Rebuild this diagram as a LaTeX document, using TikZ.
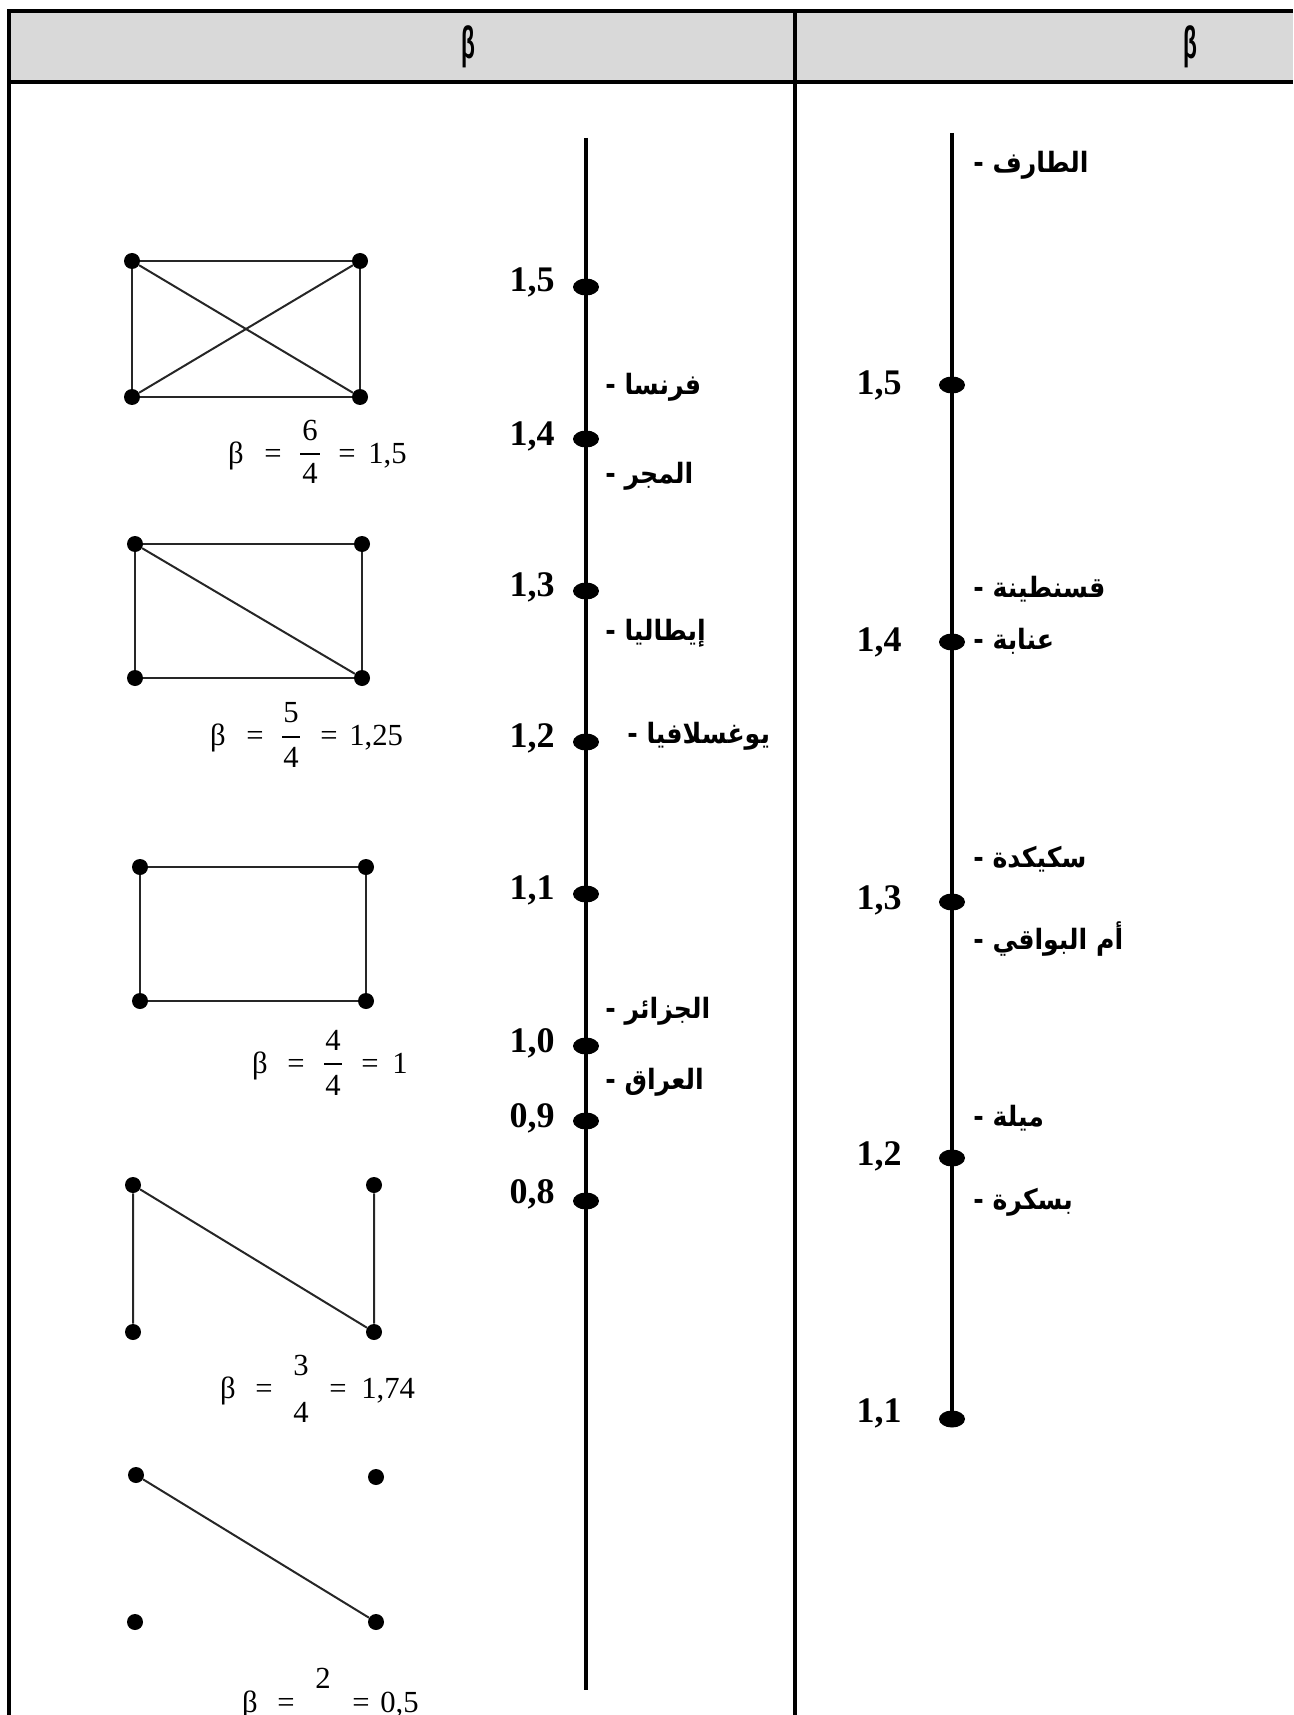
\documentclass[tikz,border=0pt]{standalone}
\usepackage{fontspec}
\setmainfont{Liberation Serif}
\newfontfamily\arabicfont[Script=Arabic,FakeStretch=0.9]{DejaVu Sans}
\newfontfamily\hdrfont{Liberation Sans}
\newfontfamily\frmfont{Liberation Serif}
\TeXXeTstate=1
\usetikzlibrary{shapes.geometric}
\definecolor{hdrgray}{HTML}{D9D9D9}
\definecolor{edgecol}{HTML}{262626}
\begin{document}
\begin{tikzpicture}[x=0.75pt,y=-0.75pt,
  tblline/.style={line width=3pt,black},
  axline/.style={line width=2.6pt,black},
  gedge/.style={line width=1.5pt,edgecol},
  vtx/.style={circle,fill=black,inner sep=0pt,minimum size=12pt},
  axdot/.style={ellipse,fill=black,inner sep=0pt,minimum width=19.5pt,minimum height=12.75pt},
  numlbl/.style={anchor=base east,inner sep=0pt,font=\bfseries\fontsize{27}{30}\selectfont},
  arlbl/.style={anchor=base west,inner sep=0pt,font=\arabicfont\bfseries\fontsize{21}{24}\selectfont},
  ftxt/.style={anchor=base,inner sep=0pt,font=\frmfont\fontsize{23}{26}\selectfont},
  fval/.style={ftxt,anchor=base west},
  fbar/.style={line width=1.3pt,black},
  hdr/.style={inner sep=0pt,font=\hdrfont\bfseries\fontsize{34}{38}\selectfont}
]
\useasboundingbox (0,0) rectangle (1293,1715);
% table
\fill[hdrgray] (9,11) rectangle (1293,82);
\draw[tblline] (9,1715) -- (9,11) -- (1293,11);
\draw[tblline] (9,82) -- (1293,82);
\draw[tblline] (795,11) -- (795,1715);
\node[hdr] (h1) at (468,47) {\scalebox{0.5}[1]{β}};
\node[hdr] (h2) at (1190,47) {\scalebox{0.5}[1]{β}};

% left axis
\coordinate (la0) at (586,138);
\coordinate (la1) at (586,1690);
\draw[axline] (la0) -- (la1);
\node[axdot] (l15) at (586,287) {};
\node[axdot] (l14) at (586,439) {};
\node[axdot] (l13) at (586,591) {};
\node[axdot] (l12) at (586,742) {};
\node[axdot] (l11) at (586,894) {};
\node[axdot] (l10) at (586,1046) {};
\node[axdot] (l09) at (586,1121) {};
\node[axdot] (l08) at (586,1201) {};
\node[numlbl] (ln15) at (555,292) {1,5};
\node[numlbl] (ln14) at (555,445) {1,4};
\node[numlbl] (ln13) at (555,596) {1,3};
\node[numlbl] (ln12) at (555,747) {1,2};
\node[numlbl] (ln11) at (555,899) {1,1};
\node[numlbl] (ln10) at (555,1052) {1,0};
\node[numlbl] (ln09) at (555,1127) {0,9};
\node[numlbl] (ln08) at (555,1203) {0,8};
\node[arlbl] (fr) at (605,395) {\beginR فرنسا -\endR};
\node[arlbl] (hu) at (605,483) {\beginR المجر -\endR};
\node[arlbl] (it) at (605,640) {\beginR إيطاليا -\endR};
\node[arlbl] (yu) at (627,743) {\beginR يوغسلافيا -\endR};
\node[arlbl] (dz) at (605,1018) {\beginR الجزائر -\endR};
\node[arlbl] (iq) at (605,1089) {\beginR العراق -\endR};

% right axis
\coordinate (ra0) at (952,133);
\draw[axline] (ra0) -- (952,1419);
\node[axdot] (r15) at (952,385) {};
\node[axdot] (r14) at (952,642) {};
\node[axdot] (r13) at (952,902) {};
\node[axdot] (r12) at (952,1158) {};
\node[axdot] (r11) at (952,1419) {};
\node[numlbl] (rn15) at (902,394) {1,5};
\node[numlbl] (rn14) at (902,651) {1,4};
\node[numlbl] (rn13) at (902,909) {1,3};
\node[numlbl] (rn12) at (902,1165) {1,2};
\node[numlbl] (rn11) at (902,1422) {1,1};
\node[arlbl] (ta) at (973,173) {\beginR الطارف -\endR};
\node[arlbl] (qs) at (973,597) {\beginR قسنطينة -\endR};
\node[arlbl] (an) at (973,649) {\beginR عنابة -\endR};
\node[arlbl] (sk) at (973,867) {\beginR سكيكدة -\endR};
\node[arlbl] (ob) at (973,949) {\beginR أم البواقي -\endR};
\node[arlbl] (mi) at (973,1126) {\beginR ميلة -\endR};
\node[arlbl] (bi) at (973,1209) {\beginR بسكرة -\endR};

% graph 1
\node[vtx] (g1a) at (132,261) {};
\node[vtx] (g1b) at (360,261) {};
\node[vtx] (g1c) at (132,397) {};
\node[vtx] (g1d) at (360,397) {};
\draw[gedge] (g1a) -- (g1b) -- (g1d) -- (g1c) -- (g1a);
\draw[gedge] (g1a) -- (g1d);
\draw[gedge] (g1b) -- (g1c);
\node[ftxt] (f1b) at (236,463) {β};
\node[ftxt] (f1e) at (273,463) {=};
\node[ftxt] (f1n) at (310,440) {6};
\node[ftxt] (f1d) at (310,483) {4};
\draw[fbar] (300,454) -- (320,454);
\node[ftxt] (f1f) at (347,463) {=};
\node[fval] (f1v) at (368,463) {1,5};

% graph 2
\node[vtx] (g2a) at (135,544) {};
\node[vtx] (g2b) at (362,544) {};
\node[vtx] (g2c) at (135,678) {};
\node[vtx] (g2d) at (362,678) {};
\draw[gedge] (g2a) -- (g2b) -- (g2d) -- (g2c) -- (g2a);
\draw[gedge] (g2a) -- (g2d);
\node[ftxt] (f2b) at (218,745) {β};
\node[ftxt] (f2e) at (255,745) {=};
\node[ftxt] (f2n) at (291,722) {5};
\node[ftxt] (f2d) at (291,767) {4};
\draw[fbar] (282,737) -- (300,737);
\node[ftxt] (f2f) at (329,745) {=};
\node[fval] (f2v) at (349,745) {1,25};

% graph 3
\node[vtx] (g3a) at (140,867) {};
\node[vtx] (g3b) at (366,867) {};
\node[vtx] (g3c) at (140,1001) {};
\node[vtx] (g3d) at (366,1001) {};
\draw[gedge] (g3a) -- (g3b) -- (g3d) -- (g3c) -- (g3a);
\node[ftxt] (f3b) at (260,1073) {β};
\node[ftxt] (f3e) at (296,1073) {=};
\node[ftxt] (f3n) at (333,1050) {4};
\node[ftxt] (f3d) at (333,1095) {4};
\draw[fbar] (324,1064) -- (342,1064);
\node[ftxt] (f3f) at (370,1073) {=};
\node[fval] (f3v) at (392,1073) {1};

% graph 4
\node[vtx] (g4a) at (133,1185) {};
\node[vtx] (g4b) at (374,1185) {};
\node[vtx] (g4c) at (133,1332) {};
\node[vtx] (g4d) at (374,1332) {};
\draw[gedge] (g4c) -- (g4a) -- (g4d) -- (g4b);
\node[ftxt] (f4b) at (228,1398) {β};
\node[ftxt] (f4e) at (264,1398) {=};
\node[ftxt] (f4n) at (301,1375) {3};
\node[ftxt] (f4d) at (301,1422) {4};
\node[ftxt] (f4f) at (338,1398) {=};
\node[fval] (f4v) at (361,1398) {1,74};

% graph 5
\node[vtx] (g5a) at (136,1475) {};
\node[vtx] (g5b) at (376,1477) {};
\node[vtx] (g5c) at (135,1622) {};
\node[vtx] (g5d) at (376,1622) {};
\draw[gedge] (g5a) -- (g5d);
\node[ftxt] (f5b) at (250,1712) {β};
\node[ftxt] (f5e) at (286,1712) {=};
\node[ftxt] (f5n) at (323,1688) {2};
\node[ftxt] (f5d) at (323,1736) {4};
\node[ftxt] (f5f) at (361,1712) {=};
\node[fval] (f5v) at (380,1712) {0,5};
\end{tikzpicture}
\end{document}
